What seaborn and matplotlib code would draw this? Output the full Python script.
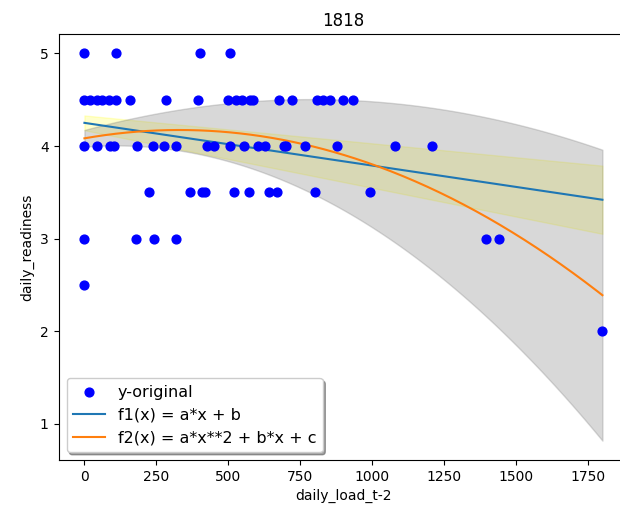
import numpy as np
import pandas as pd
import matplotlib
matplotlib.use("Agg")
import matplotlib.pyplot as plt
import seaborn as sns

# observed points (daily_load_t-2, daily_readiness)
x5 = [0, 109, 400, 505]
x45 = [0, 21, 44, 61, 84, 108, 160, 285, 393, 498, 528, 547, 574, 586,
       677, 721, 808, 829, 852, 900, 933]
x4 = [0, 44, 88, 102, 181, 238, 278, 319, 426, 449, 505, 553, 602, 628,
      692, 701, 767, 877, 1080, 1207]
x35 = [223, 368, 409, 420, 519, 571, 640, 669, 802, 993]
x3 = [0, 180, 241, 319, 1395, 1442]
x25 = [0]
x2 = [1800]

# fitted parameters
lin_a, lin_b = -4.61e-4, 4.25
lin_sa, lin_sb = 1.6e-4, 0.08
quad_a, quad_b, quad_c = -8.25e-7, 5.445e-4, 4.083
quad_sa, quad_sb, quad_sc = 2.9e-7, 3.0e-4, 0.09

xs_all = x5 + x45 + x4 + x35 + x3 + x25 + x2
ys_all = ([5.0] * len(x5) + [4.5] * len(x45) + [4.0] * len(x4) + [3.5] * len(x35)
          + [3.0] * len(x3) + [2.5] * len(x25) + [2.0] * len(x2))
df = pd.DataFrame({"daily_load_t-2": xs_all, "daily_readiness": ys_all})

xf = np.linspace(0, max(xs_all), 300)
f1 = lin_a * xf + lin_b
f1_hw = lin_sa * xf + lin_sb
f2 = quad_a * xf ** 2 + quad_b * xf + quad_c
f2_hw = quad_sa * xf ** 2 + quad_sb * xf + quad_sc
fit = pd.DataFrame({"x": xf, "f1": f1, "f2": f2})

fig = plt.figure(figsize=(6.2, 5.12), dpi=100)
ax = fig.add_axes([0.0944, 0.1016, 1.0134 - 0.0944, 0.9336 - 0.1016])

ax.fill_between(xf, f1 - f1_hw, f1 + f1_hw, color="yellow", alpha=0.2, zorder=1)
ax.fill_between(xf, f2 - f2_hw, f2 + f2_hw, color="gray", alpha=0.3, zorder=1)

sns.scatterplot(data=df, x="daily_load_t-2", y="daily_readiness", color="blue",
                edgecolor="blue", s=40, linewidth=1, label="y-original", ax=ax,
                zorder=3)
sns.lineplot(data=fit, x="x", y="f1", color="#1f77b4", linewidth=1.5,
             label="f1(x) = a*x + b", ax=ax, zorder=2)
sns.lineplot(data=fit, x="x", y="f2", color="#ff7f0e", linewidth=1.5,
             label="f2(x) = a*x**2 + b*x + c", ax=ax, zorder=2)

ax.set_title("1818", fontsize=12)
ax.set_xlabel("daily_load_t-2")
ax.set_ylabel("daily_readiness")
ax.set_xticks([0, 250, 500, 750, 1000, 1250, 1500, 1750])
ax.spines["right"].set_visible(False)
ax.legend(loc="lower left", shadow=True, fancybox=True, fontsize=11.5)

fig.savefig("out.png", dpi=100)
